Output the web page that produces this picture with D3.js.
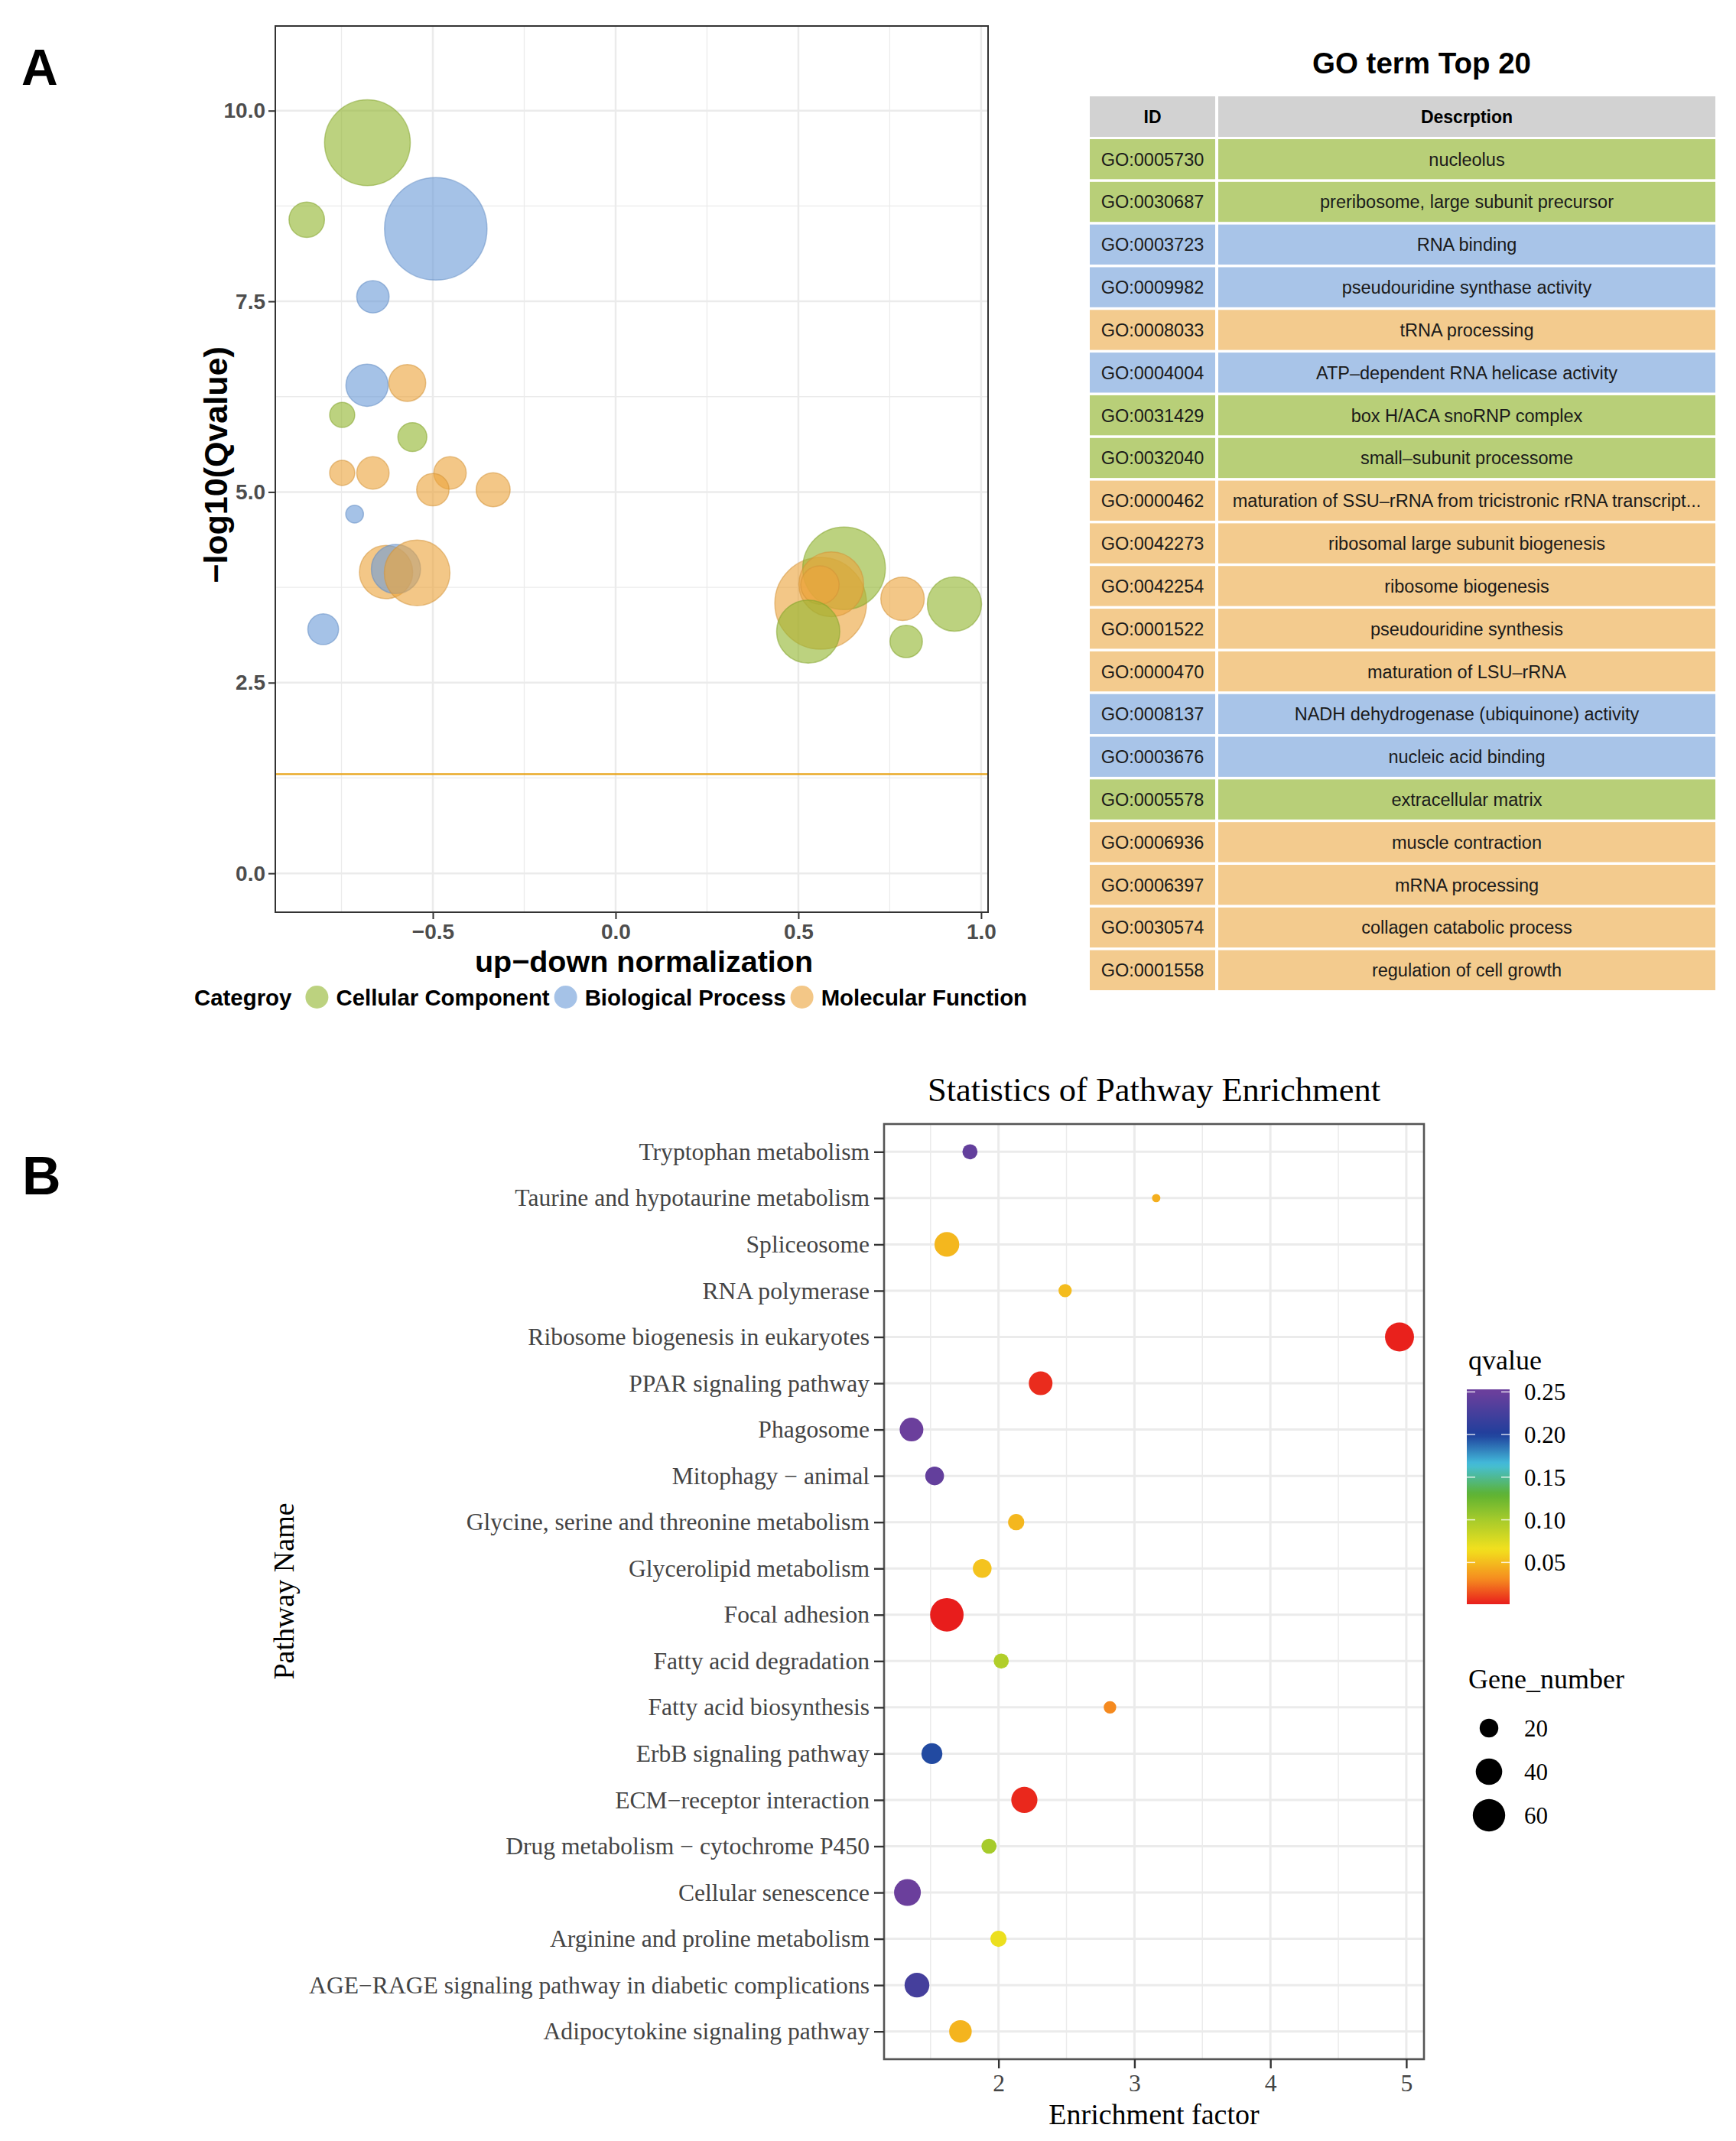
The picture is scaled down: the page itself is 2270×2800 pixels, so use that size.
<!DOCTYPE html>
<html>
<head>
<meta charset="utf-8">
<title>GO term Top 20 / Statistics of Pathway Enrichment</title>
<script src="https://d3js.org/d3.v7.min.js"></script>
<style>
  body { margin: 0; background: #fff; }
  svg { display: block; }
  .sans { font-family: "Liberation Sans", Arial, sans-serif; }
  .serif { font-family: "Liberation Serif", "Times New Roman", serif; }
</style>
</head>
<body>
<div id="fig"></div>
<script>

// ---------------- data : panel A bubbles ----------------
const categories = ["Cellular Component", "Biological Process", "Molecular Function"];
const catColors = ["#93b630", "#6d9dd9", "#eba53e"];

// category index (0 = CC, 1 = BP, 2 = MF), in drawing order
const bubbleCat  = [0, 0, 1, 1, 1, 2, 0, 0, 2, 2, 2, 2, 2, 1, 2, 1, 2, 1,
                    2, 0, 2, 2, 0, 2, 0, 0];
const bubbleX    = [-0.679, -0.845, -0.492, -0.664, -0.680, -0.570, -0.748, -0.556, -0.748, -0.664, -0.453, -0.500, -0.335, -0.714, -0.628, -0.601, -0.543, -0.800,
                    0.561, 0.625, 0.590, 0.559, 0.527, 0.785, 0.795, 0.927];
const bubbleY    = [9.58, 8.57, 8.45, 7.56, 6.40, 6.43, 6.01, 5.72, 5.25, 5.25, 5.25, 5.03, 5.03, 4.71, 3.95, 3.99, 3.94, 3.20,
                    3.54, 4.00, 3.79, 3.78, 3.17, 3.60, 3.04, 3.53];
const bubbleSize = [70, 12, 100, 10, 17, 13, 6, 8, 6, 10, 10, 10, 11, 3, 27, 23, 41, 9,
                    80, 65, 40, 14, 38, 18, 10, 28];
const qThreshold = 1.30;   // -log10(0.05)

const xTicksA = [-0.5, 0, 0.5, 1.0];
const yTicksA = [0, 2.5, 5, 7.5, 10];

// ---------------- data : GO table ----------------
const tableIds = ["GO:0005730", "GO:0030687", "GO:0003723", "GO:0009982", "GO:0008033",
                  "GO:0004004", "GO:0031429", "GO:0032040", "GO:0000462", "GO:0042273",
                  "GO:0042254", "GO:0001522", "GO:0000470", "GO:0008137", "GO:0003676",
                  "GO:0005578", "GO:0006936", "GO:0006397", "GO:0030574", "GO:0001558"];
const tableDesc = ["nucleolus", "preribosome, large subunit precursor", "RNA binding",
                   "pseudouridine synthase activity", "tRNA processing",
                   "ATP\u2013dependent RNA helicase activity", "box H/ACA snoRNP complex",
                   "small\u2013subunit processome",
                   "maturation of SSU\u2013rRNA from tricistronic rRNA transcript...",
                   "ribosomal large subunit biogenesis", "ribosome biogenesis",
                   "pseudouridine synthesis", "maturation of LSU\u2013rRNA",
                   "NADH dehydrogenase (ubiquinone) activity", "nucleic acid binding",
                   "extracellular matrix", "muscle contraction", "mRNA processing",
                   "collagen catabolic process", "regulation of cell growth"];
const tableCat = [0, 0, 1, 1, 2, 1, 0, 0, 2, 2, 2, 2, 2, 1, 1, 0, 2, 2, 2, 2];
const tableColors = ["#b8cf78", "#a8c4e8", "#f3cb8e"];

// ---------------- data : panel B pathways (top to bottom) ----------------
const pathNames = ["Tryptophan metabolism", "Taurine and hypotaurine metabolism", "Spliceosome",
                   "RNA polymerase", "Ribosome biogenesis in eukaryotes", "PPAR signaling pathway",
                   "Phagosome", "Mitophagy \u2212 animal", "Glycine, serine and threonine metabolism",
                   "Glycerolipid metabolism", "Focal adhesion", "Fatty acid degradation",
                   "Fatty acid biosynthesis", "ErbB signaling pathway", "ECM\u2212receptor interaction",
                   "Drug metabolism \u2212 cytochrome P450", "Cellular senescence",
                   "Arginine and proline metabolism",
                   "AGE\u2212RAGE signaling pathway in diabetic complications",
                   "Adipocytokine signaling pathway"];
const pathRich  = [1.79, 3.16, 1.62, 2.49, 4.95, 2.31, 1.36, 1.53, 2.13, 1.88,
                   1.62, 2.02, 2.82, 1.51, 2.19, 1.93, 1.33, 2.00, 1.40, 1.72];
const pathQ     = [0.245, 0.045, 0.048, 0.050, 0.002, 0.005, 0.250, 0.245, 0.048, 0.053,
                   0.001, 0.095, 0.030, 0.197, 0.004, 0.100, 0.253, 0.068, 0.225, 0.047];
const pathGenes = [13, 4, 35, 10, 48, 32, 32, 20, 15, 20, 64, 13, 9, 25, 39, 13, 41, 15, 35, 29];

const xTicksB = [2, 3, 4, 5];
const qTicks = [0.05, 0.10, 0.15, 0.20, 0.25];
const geneTicks = [20, 40, 60];
const qStops  = [0, 0.03, 0.065, 0.1, 0.13, 0.165, 0.2, 0.25];
const qColors = ["#e8191c", "#f58a1f", "#f3e11d", "#a6cb2b", "#5db232", "#44bfdc", "#1f3f9c", "#6b3f9c"];

// =====================================================================
const W = 2270, H = 2800;
const svg = d3.select("#fig").append("svg")
  .attr("width", W).attr("height", H);
svg.append("rect").attr("width", W).attr("height", H).attr("fill", "#fff");

const grid = "#ebebeb";

/* ---------------------- panel A : bubble plot ---------------------- */
const A = { left: 360, right: 1292, top: 34, bottom: 1193 };
const xA = d3.scaleLinear().domain([-0.931, 1.019]).range([A.left, A.right]);
const yA = d3.scaleLinear().domain([-0.51, 11.11]).range([A.bottom, A.top]);
const rA = d3.scaleSqrt().domain([0, 100]).range([0, 67]);

svg.append("text").attr("class", "sans")
  .attr("x", 28).attr("y", 111)
  .attr("font-size", 66).attr("font-weight", "bold").text("A");

const gA = svg.append("g");
// minor grid
const xMinorA = d3.range(-0.75, 1.0, 0.5);
const yMinorA = d3.range(1.25, 11, 2.5);
gA.selectAll(".vminor").data(xMinorA).join("line")
  .attr("x1", d => xA(d)).attr("x2", d => xA(d))
  .attr("y1", A.top).attr("y2", A.bottom)
  .attr("stroke", grid).attr("stroke-width", 1.3);
gA.selectAll(".hminor").data(yMinorA).join("line")
  .attr("y1", d => yA(d)).attr("y2", d => yA(d))
  .attr("x1", A.left).attr("x2", A.right)
  .attr("stroke", grid).attr("stroke-width", 1.3);
// major grid
gA.selectAll(".vmajor").data(xTicksA).join("line")
  .attr("x1", d => xA(d)).attr("x2", d => xA(d))
  .attr("y1", A.top).attr("y2", A.bottom)
  .attr("stroke", grid).attr("stroke-width", 2.5);
gA.selectAll(".hmajor").data(yTicksA).join("line")
  .attr("y1", d => yA(d)).attr("y2", d => yA(d))
  .attr("x1", A.left).attr("x2", A.right)
  .attr("stroke", grid).attr("stroke-width", 2.5);

// significance line
gA.append("line")
  .attr("x1", A.left).attr("x2", A.right)
  .attr("y1", yA(qThreshold)).attr("y2", yA(qThreshold))
  .attr("stroke", "#e8a317").attr("stroke-width", 2.2);

// bubbles
const bubbles = d3.range(bubbleX.length);
gA.selectAll(".bubble").data(bubbles).join("circle")
  .attr("cx", i => xA(bubbleX[i]))
  .attr("cy", i => yA(bubbleY[i]))
  .attr("r", i => rA(bubbleSize[i]))
  .attr("fill", i => catColors[bubbleCat[i]])
  .attr("fill-opacity", 0.62)
  .attr("stroke", i => d3.color(catColors[bubbleCat[i]]).darker(0.3))
  .attr("stroke-opacity", 0.55)
  .attr("stroke-width", 1.5);

// frame
gA.append("rect")
  .attr("x", A.left).attr("y", A.top)
  .attr("width", A.right - A.left).attr("height", A.bottom - A.top)
  .attr("fill", "none").attr("stroke", "#333").attr("stroke-width", 2);

// axes
const axLeftA = svg.append("g").attr("transform", `translate(${A.left},0)`)
  .call(d3.axisLeft(yA).tickValues(yTicksA).tickFormat(d3.format(".1f")).tickSize(9).tickPadding(4));
const axBotA = svg.append("g").attr("transform", `translate(0,${A.bottom})`)
  .call(d3.axisBottom(xA).tickValues(xTicksA).tickFormat(d3.format(".1f")).tickSize(9).tickPadding(6));
[axLeftA, axBotA].forEach(ax => {
  ax.select(".domain").remove();
  ax.selectAll("line").attr("stroke", "#333").attr("stroke-width", 2);
  ax.selectAll("text").attr("class", "sans").attr("font-size", 28)
    .attr("font-weight", "bold").attr("fill", "#4d4d4d");
});

svg.append("text").attr("class", "sans")
  .attr("transform", "translate(297,608) rotate(-90)")
  .attr("text-anchor", "middle").attr("font-size", 43).attr("font-weight", "bold")
  .text("\u2212log10(Qvalue)");
svg.append("text").attr("class", "sans")
  .attr("x", 842).attr("y", 1271)
  .attr("text-anchor", "middle").attr("font-size", 39.5).attr("font-weight", "bold")
  .text("up\u2212down normalization");

// legend
const legA = svg.append("g").attr("class", "sans")
  .attr("font-size", 29.4).attr("font-weight", "bold");
let lx = 254;
const legY = 1304;
const catText = legA.append("text").attr("x", lx).attr("y", legY + 10.5).text("Categroy");
lx += catText.node().getComputedTextLength() + 33;
categories.forEach((c, i) => {
  legA.append("circle").attr("cx", lx).attr("cy", legY).attr("r", 15)
    .attr("fill", catColors[i]).attr("fill-opacity", 0.62);
  const t = legA.append("text").attr("x", lx + 25).attr("y", legY + 10.5).text(c);
  lx += 25 + t.node().getComputedTextLength() + 21;
});

/* ---------------------- GO term table ---------------------- */
const T = { left: 1425, idRight: 1589, descLeft: 1593, right: 2243, headTop: 126, headBottom: 179 };
svg.append("text").attr("class", "sans")
  .attr("x", 1859).attr("y", 96)
  .attr("text-anchor", "middle").attr("font-size", 38.5).attr("font-weight", "bold")
  .text("GO term Top 20");

const rowBand = d3.scaleBand().domain(d3.range(tableIds.length))
  .range([182, 1295]).paddingInner(0.062).paddingOuter(0);

const gT = svg.append("g").attr("class", "sans");
// header
gT.append("rect").attr("x", T.left).attr("y", T.headTop)
  .attr("width", T.idRight - T.left).attr("height", T.headBottom - T.headTop).attr("fill", "#d2d2d2");
gT.append("rect").attr("x", T.descLeft).attr("y", T.headTop)
  .attr("width", T.right - T.descLeft).attr("height", T.headBottom - T.headTop).attr("fill", "#d2d2d2");
gT.append("text").attr("x", (T.left + T.idRight) / 2).attr("y", (T.headTop + T.headBottom) / 2 + 8)
  .attr("text-anchor", "middle").attr("font-size", 23).attr("font-weight", "bold").text("ID");
gT.append("text").attr("x", (T.descLeft + T.right) / 2).attr("y", (T.headTop + T.headBottom) / 2 + 8)
  .attr("text-anchor", "middle").attr("font-size", 23).attr("font-weight", "bold").text("Descrption");

const rows = gT.selectAll(".row").data(d3.range(tableIds.length)).join("g")
  .attr("transform", i => `translate(0,${rowBand(i)})`);
rows.append("rect").attr("x", T.left).attr("width", T.idRight - T.left)
  .attr("height", rowBand.bandwidth()).attr("fill", i => tableColors[tableCat[i]]);
rows.append("rect").attr("x", T.descLeft).attr("width", T.right - T.descLeft)
  .attr("height", rowBand.bandwidth()).attr("fill", i => tableColors[tableCat[i]]);
rows.append("text").attr("x", (T.left + T.idRight) / 2).attr("y", rowBand.bandwidth() / 2 + 8.5)
  .attr("text-anchor", "middle").attr("font-size", 23.5).attr("fill", "#1a1a1a")
  .text(i => tableIds[i]);
rows.append("text").attr("x", (T.descLeft + T.right) / 2).attr("y", rowBand.bandwidth() / 2 + 8.5)
  .attr("text-anchor", "middle").attr("font-size", 23.5).attr("fill", "#1a1a1a")
  .text(i => tableDesc[i])
  .each(function () {
    const maxW = T.right - T.descLeft - 28;
    if (this.getComputedTextLength() > maxW) {
      d3.select(this).attr("textLength", maxW).attr("lengthAdjust", "spacingAndGlyphs");
    }
  });

/* ---------------------- panel B : pathway dot plot ---------------------- */
const B = { left: 1156, right: 1862, top: 1470, bottom: 2693 };
const xB = d3.scaleLinear().domain([1.158, 5.13]).range([B.left, B.right]);
const yB = d3.scalePoint().domain(pathNames).range([B.top, B.bottom]).padding(0.6);
const rB = d3.scaleSqrt().domain([0, 60]).range([0, 21.2]);
const qColor = d3.scaleLinear().domain(qStops).range(qColors).clamp(true);

svg.append("text").attr("class", "sans")
  .attr("x", 29).attr("y", 1562)
  .attr("font-size", 70).attr("font-weight", "bold").text("B");

svg.append("text").attr("class", "serif")
  .attr("x", (B.left + B.right) / 2).attr("y", 1440)
  .attr("text-anchor", "middle").attr("font-size", 44.5)
  .text("Statistics of Pathway Enrichment");

const gB = svg.append("g");
const xMinorB = d3.range(1.5, 5.1, 1);
gB.selectAll(".vminorB").data(xMinorB).join("line")
  .attr("x1", d => xB(d)).attr("x2", d => xB(d))
  .attr("y1", B.top).attr("y2", B.bottom)
  .attr("stroke", grid).attr("stroke-width", 1.5);
gB.selectAll(".vmajorB").data(xTicksB).join("line")
  .attr("x1", d => xB(d)).attr("x2", d => xB(d))
  .attr("y1", B.top).attr("y2", B.bottom)
  .attr("stroke", grid).attr("stroke-width", 3);
gB.selectAll(".hmajorB").data(pathNames).join("line")
  .attr("y1", d => yB(d)).attr("y2", d => yB(d))
  .attr("x1", B.left).attr("x2", B.right)
  .attr("stroke", grid).attr("stroke-width", 3);

gB.selectAll(".dot").data(d3.range(pathNames.length)).join("circle")
  .attr("cx", i => xB(pathRich[i]))
  .attr("cy", i => yB(pathNames[i]))
  .attr("r", i => rB(pathGenes[i]))
  .attr("fill", i => qColor(pathQ[i]));

gB.append("rect")
  .attr("x", B.left).attr("y", B.top)
  .attr("width", B.right - B.left).attr("height", B.bottom - B.top)
  .attr("fill", "none").attr("stroke", "#555").attr("stroke-width", 2.6);

const axLeftB = svg.append("g").attr("transform", `translate(${B.left},0)`)
  .call(d3.axisLeft(yB).tickSize(13).tickPadding(6));
const axBotB = svg.append("g").attr("transform", `translate(0,${B.bottom})`)
  .call(d3.axisBottom(xB).tickValues(xTicksB).tickFormat(d3.format("d")).tickSize(12).tickPadding(8));
[axLeftB, axBotB].forEach(ax => {
  ax.select(".domain").remove();
  ax.selectAll("line").attr("stroke", "#333").attr("stroke-width", 2.4);
  ax.selectAll("text").attr("class", "serif").attr("font-size", 31.6).attr("fill", "#444");
});

svg.append("text").attr("class", "serif")
  .attr("x", (B.left + B.right) / 2).attr("y", 2778)
  .attr("text-anchor", "middle").attr("font-size", 38)
  .text("Enrichment factor");
svg.append("text").attr("class", "serif")
  .attr("transform", "translate(384,2081) rotate(-90)")
  .attr("text-anchor", "middle").attr("font-size", 38)
  .text("Pathway Name");

// qvalue colour bar
const qExtent = d3.extent(pathQ);
const bar = { x: 1918, w: 56, top: 1817, bottom: 2098 };
const qBar = d3.scaleLinear().domain(qExtent).range([bar.bottom, bar.top]);
const defs = svg.append("defs");
const grad = defs.append("linearGradient").attr("id", "qgrad")
  .attr("x1", 0).attr("y1", 1).attr("x2", 0).attr("y2", 0);
d3.range(0, 1.0001, 0.02).forEach(t => {
  const q = qExtent[0] + t * (qExtent[1] - qExtent[0]);
  grad.append("stop").attr("offset", t).attr("stop-color", qColor(q));
});
const gL = svg.append("g").attr("class", "serif");
gL.append("text").attr("x", 1920).attr("y", 1791).attr("font-size", 36).text("qvalue");
gL.append("rect").attr("x", bar.x).attr("y", bar.top)
  .attr("width", bar.w).attr("height", bar.bottom - bar.top).attr("fill", "url(#qgrad)");
qTicks.forEach(q => {
  const y = qBar(q);
  gL.append("line").attr("x1", bar.x).attr("x2", bar.x + 11).attr("y1", y).attr("y2", y)
    .attr("stroke", "#fff").attr("stroke-width", 1.5).attr("stroke-opacity", 0.8);
  gL.append("line").attr("x1", bar.x + bar.w - 11).attr("x2", bar.x + bar.w).attr("y1", y).attr("y2", y)
    .attr("stroke", "#fff").attr("stroke-width", 1.5).attr("stroke-opacity", 0.8);
  gL.append("text").attr("x", 1993).attr("y", y + 11).attr("font-size", 31)
    .text(d3.format(".2f")(q));
});

// gene number legend
gL.append("text").attr("x", 1920).attr("y", 2208).attr("font-size", 36).text("Gene_number");
const geneRow = d3.scalePoint().domain(geneTicks).range([2260, 2374]);
geneTicks.forEach(g => {
  gL.append("circle").attr("cx", 1947).attr("cy", geneRow(g)).attr("r", rB(g)).attr("fill", "#000");
  gL.append("text").attr("x", 1993).attr("y", geneRow(g) + 11).attr("font-size", 31).text(g);
});

</script>
</body>
</html>
